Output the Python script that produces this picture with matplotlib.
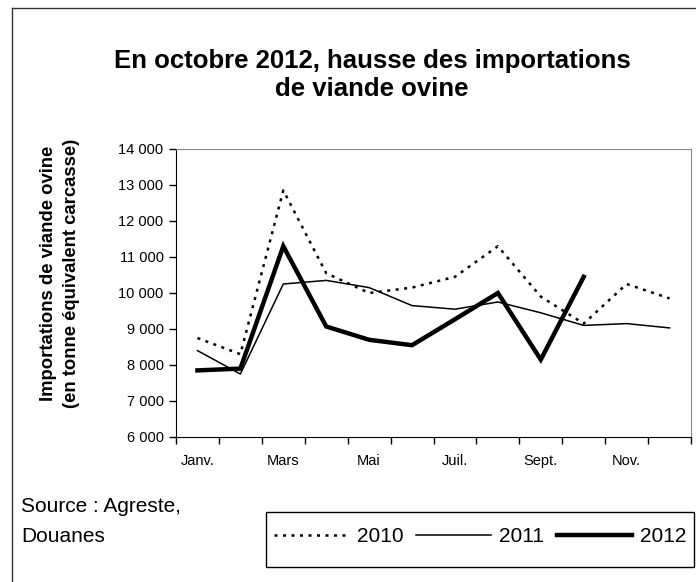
import numpy as np
import matplotlib.pyplot as plt
from matplotlib.lines import Line2D
from matplotlib.patches import Rectangle

plt.rcParams['font.family'] = ['Liberation Sans', 'DejaVu Sans']

# donnees (tonnes equivalent carcasse)
mois = ['Janv.', 'Févr.', 'Mars', 'Avr.', 'Mai', 'Juin',
        'Juil.', 'Août', 'Sept.', 'Oct.', 'Nov.', 'Déc.']
v2010 = [8750, 8300, 12850, 10550, 10000, 10150, 10450, 11300, 9900, 9150, 10250, 9850]
v2011 = [8400, 7750, 10250, 10350, 10150, 9650, 9550, 9750, 9450, 9100, 9150, 9030]
v2012 = [7850, 7900, 11300, 9070, 8700, 8550, 9270, 10000, 8150, 10450]

yticks = [6000, 7000, 8000, 9000, 10000, 11000, 12000, 13000, 14000]
ylabels = ['6 000', '7 000', '8 000', '9 000', '10 000', '11 000', '12 000', '13 000', '14 000']

W, H = 696, 582
fig = plt.figure(figsize=(W / 100, H / 100), dpi=100)
ax = fig.add_axes([176 / W, 1 - 437 / H, (691 - 176) / W, (437 - 149) / H])

x = np.arange(len(mois))
l1, = ax.plot(x[:len(v2010)], v2010, color='black', lw=1.8, ls=(0, (1.2, 2.2)))
l2, = ax.plot(x[:len(v2011)], v2011, color='black', lw=1.1)
l3, = ax.plot(x[:len(v2012)], v2012, color='black', lw=3.2, solid_joinstyle='miter')

ax.set_xlim(-0.5, len(mois) - 0.5)
ax.set_ylim(6000, 14000)
ax.set_yticks(yticks)
ax.set_yticklabels(ylabels, fontsize=10.5)
ax.set_xticks(np.arange(-0.5, len(mois), 1.0))
ax.set_xticklabels([])
ax.set_xticks(x[::2], minor=True)
ax.set_xticklabels(mois[::2], minor=True, fontsize=10.5)
ax.tick_params(axis='x', which='minor', length=0, pad=12)
ax.tick_params(axis='both', which='major', direction='out', length=5, width=1)
ax.tick_params(axis='y', pad=4)

for s in ['top', 'right']:
    ax.spines[s].set_color('#888888')
for s in ['left', 'bottom']:
    ax.spines[s].set_color('black')

fig.text(60 / W, 1 - 273 / H, 'Importations de viande ovine\n(en tonne équivalent carcasse)',
         rotation=90, ha='center', va='center', fontsize=13.3, fontweight='bold',
         linespacing=1.45)

fig.text(372 / W, 1 - 75 / H, 'En octobre 2012, hausse des importations\nde viande ovine',
         ha='center', va='center', fontsize=18.5, fontweight='bold', linespacing=1.25)

fig.text(21 / W, 1 - 507 / H, 'Source : Agreste,', ha='left', va='center', fontsize=15)
fig.text(21 / W, 1 - 537 / H, 'Douanes', ha='left', va='center', fontsize=15)

# cadre de la legende
fig.patches.append(Rectangle((266 / W, 1 - 567 / H), (694 - 266) / W, (567 - 512) / H,
                             transform=fig.transFigure, fill=False, edgecolor='black', lw=1))
fig.legend([l1, l2, l3], ['2010', '2011', '2012'], loc='center',
           bbox_to_anchor=(480 / W, 1 - 537 / H), ncol=3, frameon=False,
           fontsize=15, handlelength=3.6, handletextpad=0.4, columnspacing=0.6)

# cadre exterieur
fig.add_artist(Line2D([12 / W, 12 / W], [0, 1 - 8 / H], transform=fig.transFigure,
                      color='#333333', lw=1))
fig.add_artist(Line2D([12 / W, 1], [1 - 8 / H, 1 - 8 / H], transform=fig.transFigure,
                      color='#333333', lw=1))

fig.savefig('out.png', dpi=100)
